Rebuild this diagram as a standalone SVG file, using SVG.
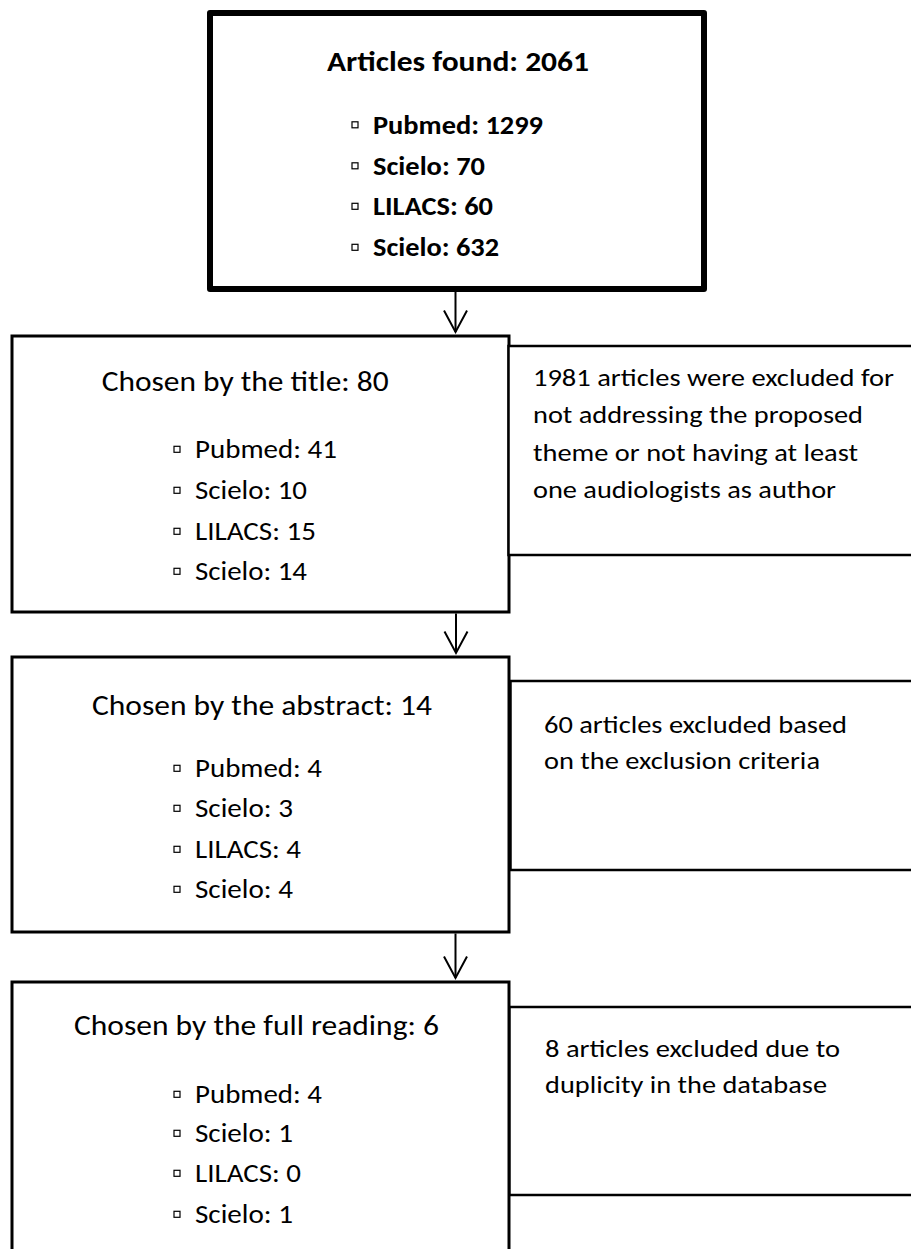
<svg xmlns="http://www.w3.org/2000/svg" width="911" height="1249" viewBox="0 0 911 1249">
<style>
text{font-family:Carlito,Lato,"Open Sans","Liberation Sans",sans-serif;fill:#000;}
.ttl{font-size:28.5px;}
.bul{font-size:26px;}
.side{font-size:25.5px;}
.b{font-weight:bold;}
.box{fill:#fff;stroke:#000;stroke-width:3;}
.sbox{fill:#fff;stroke:#000;stroke-width:2.5;}
.top{fill:#fff;stroke:#000;stroke-width:6;stroke-linejoin:round;}
.sq{fill:#fff;stroke:#000;stroke-width:1.2;}
.arr{stroke:#000;stroke-width:2;fill:none;marker-end:url(#ah);}
</style>
<defs>
<marker id="ah" markerUnits="userSpaceOnUse" viewBox="-24 -14 26 28" refX="0" refY="0" markerWidth="26" markerHeight="28" orient="auto" overflow="visible">
<path d="M-21.5,-11.5 L0,0 L-21.5,11.5" fill="none" stroke="#000" stroke-width="2"/>
</marker>
<rect id="bsq" x="0" y="-3.2" width="6" height="6" class="sq"/>
</defs>
<rect width="911" height="1249" fill="#fff"/>

<g id="found">
<rect class="top" x="210" y="13" width="494" height="276"/>
<text class="ttl b" x="327" y="71" textLength="262" lengthAdjust="spacingAndGlyphs">Articles found: 2061</text>
<use href="#bsq" x="352" y="125"/>
<text class="bul b" x="373" y="133.5" textLength="170" lengthAdjust="spacingAndGlyphs">Pubmed: 1299</text>
<use href="#bsq" x="352" y="166"/>
<text class="bul b" x="373" y="174.5" textLength="112" lengthAdjust="spacingAndGlyphs">Scielo: 70</text>
<use href="#bsq" x="352" y="206.5"/>
<text class="bul b" x="373" y="215" textLength="120" lengthAdjust="spacingAndGlyphs">LILACS: 60</text>
<use href="#bsq" x="352" y="247.5"/>
<text class="bul b" x="373" y="256" textLength="126" lengthAdjust="spacingAndGlyphs">Scielo: 632</text>
</g>

<g id="title">
<rect class="box" x="12" y="336" width="497" height="276"/>
<text class="ttl" x="101.7" y="390.5" textLength="287" lengthAdjust="spacingAndGlyphs">Chosen by the title: 80</text>
<use href="#bsq" x="174" y="449.5"/>
<text class="bul" x="195" y="458" textLength="142" lengthAdjust="spacingAndGlyphs">Pubmed: 41</text>
<use href="#bsq" x="174" y="490.5"/>
<text class="bul" x="195" y="499" textLength="112" lengthAdjust="spacingAndGlyphs">Scielo: 10</text>
<use href="#bsq" x="174" y="531.5"/>
<text class="bul" x="195" y="540" textLength="121" lengthAdjust="spacingAndGlyphs">LILACS: 15</text>
<use href="#bsq" x="174" y="571.5"/>
<text class="bul" x="195" y="580" textLength="112" lengthAdjust="spacingAndGlyphs">Scielo: 14</text>
</g>

<g id="excl1">
<rect class="sbox" x="508.5" y="346" width="410" height="209"/>
<text class="side" x="533" y="386" textLength="361" lengthAdjust="spacingAndGlyphs">1981 articles were excluded for</text>
<text class="side" x="533" y="423" textLength="330" lengthAdjust="spacingAndGlyphs">not addressing the proposed</text>
<text class="side" x="533" y="460.5" textLength="325" lengthAdjust="spacingAndGlyphs">theme or not having at least</text>
<text class="side" x="533" y="498" textLength="303" lengthAdjust="spacingAndGlyphs">one audiologists as author</text>
</g>

<g id="abstract">
<rect class="box" x="12" y="657" width="497" height="275"/>
<text class="ttl" x="92" y="715" textLength="340" lengthAdjust="spacingAndGlyphs">Chosen by the abstract: 14</text>
<use href="#bsq" x="174" y="768.5"/>
<text class="bul" x="195" y="777" textLength="127" lengthAdjust="spacingAndGlyphs">Pubmed: 4</text>
<use href="#bsq" x="174" y="808.5"/>
<text class="bul" x="195" y="817" textLength="98" lengthAdjust="spacingAndGlyphs">Scielo: 3</text>
<use href="#bsq" x="174" y="849.5"/>
<text class="bul" x="195" y="858" textLength="106" lengthAdjust="spacingAndGlyphs">LILACS: 4</text>
<use href="#bsq" x="174" y="889.5"/>
<text class="bul" x="195" y="898" textLength="98" lengthAdjust="spacingAndGlyphs">Scielo: 4</text>
</g>

<g id="excl2">
<rect class="sbox" x="510.5" y="681" width="410" height="189"/>
<text class="side" x="544" y="733" textLength="303" lengthAdjust="spacingAndGlyphs">60 articles excluded based</text>
<text class="side" x="544" y="769" textLength="276" lengthAdjust="spacingAndGlyphs">on the exclusion criteria</text>
</g>

<g id="fullreading">
<rect class="box" x="12" y="982" width="497" height="290"/>
<text class="ttl" x="74" y="1035" textLength="365" lengthAdjust="spacingAndGlyphs">Chosen by the full reading: 6</text>
<use href="#bsq" x="174" y="1094.5"/>
<text class="bul" x="195" y="1103" textLength="127" lengthAdjust="spacingAndGlyphs">Pubmed: 4</text>
<use href="#bsq" x="174" y="1133.5"/>
<text class="bul" x="195" y="1142" textLength="98" lengthAdjust="spacingAndGlyphs">Scielo: 1</text>
<use href="#bsq" x="174" y="1173.5"/>
<text class="bul" x="195" y="1182" textLength="106" lengthAdjust="spacingAndGlyphs">LILACS: 0</text>
<use href="#bsq" x="174" y="1214.5"/>
<text class="bul" x="195" y="1223" textLength="98" lengthAdjust="spacingAndGlyphs">Scielo: 1</text>
</g>

<g id="excl3">
<rect class="sbox" x="509.5" y="1007" width="410" height="188"/>
<text class="side" x="545" y="1057" textLength="295" lengthAdjust="spacingAndGlyphs">8 articles excluded due to</text>
<text class="side" x="545" y="1093" textLength="282" lengthAdjust="spacingAndGlyphs">duplicity in the database</text>
</g>

<g id="connectors">
<line class="arr" x1="455.5" y1="292" x2="455.5" y2="332"/>
<line class="arr" x1="456" y1="613.5" x2="456" y2="653"/>
<line class="arr" x1="455.5" y1="933.5" x2="455.5" y2="978"/>
</g>
</svg>
